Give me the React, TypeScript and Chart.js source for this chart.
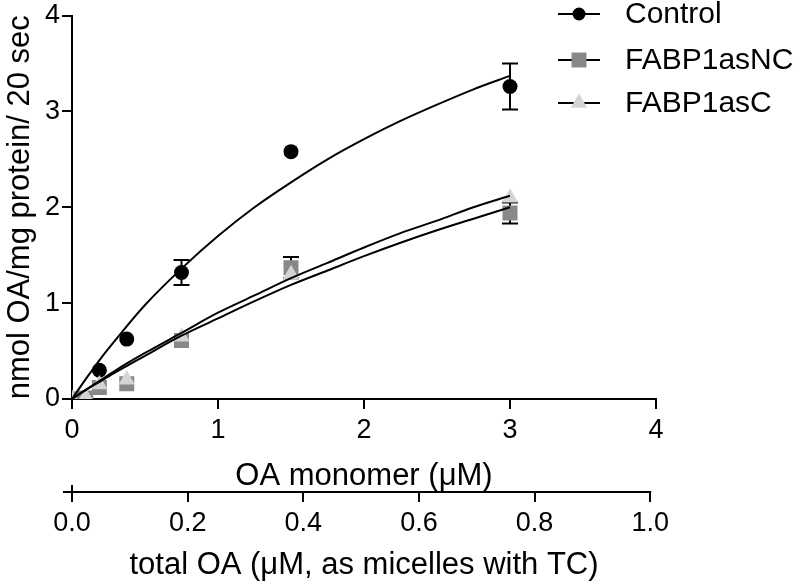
import React, { useEffect, useRef } from "react";
import { Chart, registerables } from "chart.js";

Chart.register(...registerables);

// ---- Data ----
const seriesNames = ["Control", "FABP1asNC", "FABP1asC"];
const xValues = [0, 0.094, 0.1875, 0.375, 0.75, 1.5, 3];
const controlY = [0, null, 0.30, 0.625, 1.32, 2.58, 3.26];
const controlErr = [0, 0, 0, 0, 0.13, 0, 0.24];
const ncY = [0, 0.01, 0.12, 0.16, 0.61, 1.37, 1.94];
const ncErr = [0, 0, 0, 0, 0, 0.11, 0.11];
const cY = [0, 0.02, 0.15, 0.2, 0.65, 1.3, 2.1];
const cErr = [0, 0, 0, 0, 0, 0, 0];

// fitted curves
const fitX = [0, 0.1, 0.2, 0.3, 0.5, 0.75, 1, 1.25, 1.5, 1.75, 2, 2.25, 2.5, 2.75, 3];
const controlFit = [0, 0.22, 0.43, 0.62, 0.98, 1.36, 1.7, 2.0, 2.26, 2.5, 2.71, 2.9, 3.07, 3.23, 3.37];
const ncFit = [0, 0.1, 0.19, 0.28, 0.45, 0.66, 0.84, 1.02, 1.19, 1.34, 1.49, 1.63, 1.76, 1.88, 2.0];
const cFit = [0, 0.1, 0.2, 0.3, 0.48, 0.69, 0.9, 1.08, 1.26, 1.42, 1.58, 1.73, 1.86, 2.0, 2.12];

const xTicks = [0, 1, 2, 3, 4];
const yTicks = [0, 1, 2, 3, 4];
const x2Ticks = [0, 0.2, 0.4, 0.6, 0.8, 1.0];
const x2TickLabels = ["0.0", "0.2", "0.4", "0.6", "0.8", "1.0"];

const xTitle = "OA monomer (\u03bcM)";
const x2Title = "total OA (\u03bcM, as micelles with TC)";
const yTitle = "nmol OA/mg protein/ 20 sec";

const FONT = "'Liberation Sans', Arial, sans-serif";
const colors = ["#000000", "#888888", "#d4d4d4"];
const styles = ["circle", "rect", "triangle"];
const radii = [7.5, 10.6, 9.5];

const toPts = (xs: number[], ys: (number | null)[]) =>
  xs.map((x, i) => ({ x, y: ys[i] })).filter((p) => p.y !== null);

function drawMarker(ctx: CanvasRenderingContext2D, style: string, x: number, y: number, r: number, color: string) {
  ctx.save();
  ctx.fillStyle = color;
  ctx.beginPath();
  if (style === "circle") {
    ctx.arc(x, y, r, 0, Math.PI * 2);
  } else if (style === "rect") {
    const s = r / Math.SQRT2;
    ctx.rect(x - s, y - s, 2 * s, 2 * s);
  } else {
    let a = 0;
    ctx.moveTo(x + Math.sin(a) * r, y - Math.cos(a) * r);
    a += (2 * Math.PI) / 3;
    ctx.lineTo(x + Math.sin(a) * r, y - Math.cos(a) * r);
    a += (2 * Math.PI) / 3;
    ctx.lineTo(x + Math.sin(a) * r, y - Math.cos(a) * r);
    ctx.closePath();
  }
  ctx.fill();
  ctx.restore();
}

const errorBarPlugin = {
  id: "errorBars",
  beforeDatasetsDraw(chart: any) {
    const ctx = chart.ctx;
    const xs = chart.scales.x;
    const ys = chart.scales.y;
    const sets = [
      [controlY, controlErr],
      [ncY, ncErr],
      [cY, cErr],
    ];
    ctx.save();
    ctx.strokeStyle = "#000";
    ctx.lineWidth = 2;
    sets.forEach(([vals, errs]: any) => {
      xValues.forEach((xv, i) => {
        const v = vals[i];
        const e = errs[i];
        if (v === null || !e) return;
        const px = xs.getPixelForValue(xv);
        const top = ys.getPixelForValue(v + e);
        const bot = ys.getPixelForValue(v - e);
        ctx.beginPath();
        ctx.moveTo(px, top);
        ctx.lineTo(px, bot);
        ctx.moveTo(px - 8, top);
        ctx.lineTo(px + 8, top);
        ctx.moveTo(px - 8, bot);
        ctx.lineTo(px + 8, bot);
        ctx.stroke();
      });
    });
    ctx.restore();
  },
};

const extrasPlugin = {
  id: "extras",
  afterDraw(chart: any) {
    const ctx = chart.ctx;
    // second x axis line
    const x2 = chart.scales.x2;
    const y0 = x2.top;
    const p0 = x2.getPixelForValue(0);
    const p1 = x2.getPixelForValue(1.0);
    ctx.save();
    ctx.strokeStyle = "#000";
    ctx.lineWidth = 2;
    ctx.beginPath();
    ctx.moveTo(p0 - 9, y0);
    ctx.lineTo(p1 + 1, y0);
    ctx.moveTo(p0, y0 - 7);
    ctx.lineTo(p0, y0);
    ctx.stroke();
    // legend
    const rows = [14, 60, 103];
    seriesNames.forEach((name, i) => {
      const y = rows[i];
      ctx.strokeStyle = "#000";
      ctx.lineWidth = 2;
      ctx.beginPath();
      ctx.moveTo(558, y);
      ctx.lineTo(600, y);
      ctx.stroke();
      const lr = i === 0 ? 6.5 : i === 1 ? 10.6 : 9.5;
      drawMarker(ctx, styles[i], 579, y, lr, colors[i]);
      ctx.fillStyle = "#000";
      ctx.font = `30px ${FONT}`;
      ctx.textAlign = "left";
      ctx.textBaseline = "middle";
      ctx.fillText(name, 625, y + 1);
    });
    ctx.restore();
  },
};

export default function App() {
  const ref = useRef<HTMLCanvasElement | null>(null);

  useEffect(() => {
    if (!ref.current) return;
    const pointSets = [controlY, ncY, cY];
    const fitSets = [controlFit, ncFit, cFit];
    const orders = [4, 3, 1];
    const datasets: any[] = [];
    fitSets.forEach((f, i) => {
      datasets.push({
        type: "line",
        label: seriesNames[i] + " fit",
        data: toPts(fitX, f),
        borderColor: "#000",
        borderWidth: 2,
        pointRadius: 0,
        fill: false,
        cubicInterpolationMode: "monotone",
        order: 0,
      });
    });
    pointSets.forEach((ys, i) => {
      datasets.push({
        type: "scatter",
        label: seriesNames[i],
        data: toPts(xValues, ys),
        backgroundColor: colors[i],
        borderColor: colors[i],
        borderWidth: 0,
        pointStyle: styles[i],
        pointRadius: radii[i],
        pointHoverRadius: radii[i],
        showLine: false,
        order: orders[i],
      });
    });

    const tickFont = { size: 27, family: FONT, lineHeight: 1.2 };
    const titleFont = { size: 31, family: FONT, lineHeight: 1 };

    const chart = new Chart(ref.current, {
      type: "scatter",
      data: { datasets },
      plugins: [errorBarPlugin, extrasPlugin],
      options: {
        responsive: false,
        animation: false,
        events: [],
        layout: { padding: { top: 15, right: 144, left: 0, bottom: 0 } },
        plugins: { legend: { display: false }, tooltip: { enabled: false } },
        scales: {
          x: {
            type: "linear",
            position: "bottom",
            min: 0,
            max: 4,
            afterBuildTicks: (s: any) => {
              s.ticks = xTicks.map((v) => ({ value: v }));
            },
            afterFit: (s: any) => {
              s.height = 93;
            },
            ticks: { font: tickFont, color: "#000", padding: 5, maxRotation: 0, callback: (v: any) => String(v) },
            grid: { drawOnChartArea: false, drawTicks: true, tickLength: 10, color: "#000", lineWidth: 2 },
            border: { display: true, color: "#000", width: 2 },
            title: { display: true, text: xTitle, font: titleFont, color: "#000", padding: { top: 0, bottom: 0 } },
          },
          x2: {
            type: "linear",
            axis: "x",
            position: "bottom",
            min: 0,
            max: 1.01,
            afterBuildTicks: (s: any) => {
              s.ticks = x2Ticks.map((v) => ({ value: v }));
            },
            afterFit: (s: any) => {
              s.height = 93;
            },
            ticks: {
              font: tickFont,
              color: "#000",
              padding: 5,
              maxRotation: 0,
              callback: (_v: any, i: number) => x2TickLabels[i],
            },
            grid: { drawOnChartArea: false, drawTicks: true, tickLength: 10, color: "#000", lineWidth: 2 },
            border: { display: false },
            title: { display: true, text: x2Title, font: titleFont, color: "#000", padding: { top: 0, bottom: 4 } },
          },
          y: {
            type: "linear",
            position: "left",
            min: 0,
            max: 4,
            afterBuildTicks: (s: any) => {
              s.ticks = yTicks.map((v) => ({ value: v }));
            },
            afterFit: (s: any) => {
              s.width = 72;
            },
            ticks: { font: { ...tickFont, lineHeight: 1 }, color: "#000", padding: 2, callback: (v: any) => String(v) },
            grid: { drawOnChartArea: false, drawTicks: true, tickLength: 10, color: "#000", lineWidth: 2 },
            border: { display: true, color: "#000", width: 2 },
            title: { display: true, text: yTitle, font: titleFont, color: "#000", padding: { top: 5, bottom: 0 } },
          },
        },
      } as any,
    });
    return () => chart.destroy();
  }, []);

  return (
    <div style={{ position: "fixed", left: 0, top: 0, width: 800, height: 585, background: "#fff" }}>
      <canvas ref={ref} width={800} height={585} style={{ display: "block" }} />
    </div>
  );
}
